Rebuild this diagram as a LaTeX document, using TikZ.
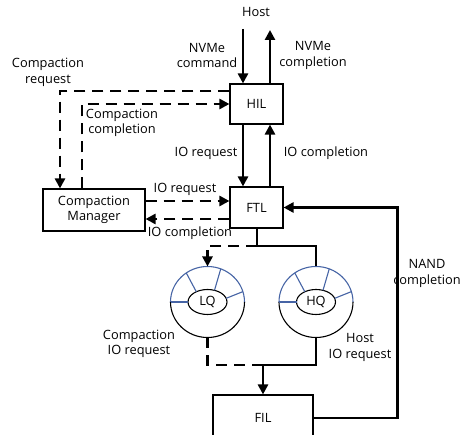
\documentclass[tikz,border=0pt]{standalone}
\usepackage{fontspec}
\setmainfont{Open Sans}
\usetikzlibrary{arrows.meta,calc,shapes.geometric}
\definecolor{ringblue}{RGB}{70,100,165}
\begin{document}
\begin{tikzpicture}[x=1pt,y=1pt,
  txt/.style={font=\fontsize{12.8}{15.5}\selectfont},
  box/.style={txt,draw,line width=1.1pt,inner sep=0pt,align=center},
  lbl/.style={txt,align=center,inner sep=0pt},
  tip/.style={-{Triangle[length=10pt,width=10pt]}},
  flow/.style={line width=2.6pt,tip},
  plain/.style={line width=2.6pt},
  dsh/.style={line width=2.6pt,dash pattern=on 11pt off 7pt},
  ring/.style={line width=1.1pt},
  outerring/.style={ellipse,minimum width=74pt,minimum height=71pt,inner sep=0pt,outer sep=0pt},
  innerring/.style={txt,ellipse,draw,ring,minimum width=39pt,minimum height=25pt,inner sep=0pt},
]
\useasboundingbox (0,0) rectangle (475,-435);
\clip (0,0) rectangle (475,-435);

% boxes
\node[box,minimum width=53pt,minimum height=40pt] (hil) at (256.5,-104) {HIL};
\node[box,minimum width=53pt,minimum height=41pt] (ftl) at (256.5,-207.5) {FTL};
\node[box,minimum width=102pt,minimum height=42pt] (cm) at (94,-210) {Compaction\\Manager};
\node[box,minimum width=100pt,minimum height=46pt] (fil) at (263,-418) {FIL};

% queues
\node[outerring] (lq) at (207.5,-302) {};
\node[innerring] (lqin) at (207.5,-302) {LQ};
\node[outerring] (hq) at (316,-302) {};
\node[innerring] (hqin) at (316,-302) {HQ};
\foreach \q in {lq,hq}{
  \draw[ring,ringblue] (\q.east) arc[start angle=0,end angle=180,x radius=37pt,y radius=35.5pt];
  \draw[ring] (\q.west) arc[start angle=180,end angle=360,x radius=37pt,y radius=35.5pt];
  \foreach \a in {180,125,69,17}
    \draw[ring,ringblue] ($(\q.center)+({19.5*cos(\a)},{12.5*sin(\a)})$) -- ($(\q.center)+({37*cos(\a)},{35.5*sin(\a)})$);
}

% labels
\node[lbl] (host) at (256,-12) {Host};
\node[lbl] (nvmecmd) at (207,-55.5) {NVMe\\command};
\node[lbl] (nvmecpl) at (313,-55.5) {NVMe\\completion};
\node[lbl] (ioreq1) at (206,-153) {IO request};
\node[lbl] (iocpl1) at (326,-153) {IO completion};
\node[lbl] (creq) at (48,-72.5) {Compaction\\request};
\node[lbl] (ccpl) at (122,-123) {Compaction\\completion};
\node[lbl] (ioreq2) at (185,-189) {IO request};
\node[lbl] (iocpl2) at (190,-233) {IO completion};
\node[lbl] (cioreq) at (139,-344) {Compaction\\IO request};
\node[lbl] (hioreq) at (360,-347.5) {Host\\IO request};
\node[lbl] (nandcpl) at (427,-273.5) {NAND\\completion};

% host <-> HIL <-> FTL
\coordinate (hostin) at (243,-29);
\coordinate (hostout) at (270,-30);
\draw[flow] (hostin) -- (hostin |- hil.north);
\draw[flow] (hil.north -| hostout) -- (hostout);
\draw[flow] (hil.south -| hostin) -- (hostin |- ftl.north);
\draw[flow] (ftl.north -| hostout) -- (hostout |- hil.south);

% compaction request / completion
\coordinate (cr) at (60,-91);
\draw[dsh,tip] (cr -| hil.west) -- (cr) -- (cr |- cm.north);
\coordinate (cc) at (82,-104);
\draw[dsh,tip] (cc |- cm.north) -- (cc) -- (cc -| hil.west);

% CM <-> FTL
\coordinate (r1) at (0,-201);
\coordinate (r2) at (0,-219);
\draw[dsh,tip] (cm.east |- r1) -- (ftl.west |- r1);
\draw[dsh,tip] (ftl.west |- r2) -- (cm.east |- r2);

% FTL -> queues
\coordinate (j1) at (257,-246);
\draw[plain] (ftl.south -| j1) -- (j1) -- (j1 -| hq.north) -- (hq.north);
\draw[dsh,tip] (j1) -- (j1 -| lq.north) -- (lq.north);

% queues -> FIL
\coordinate (j2) at (263,-365);
\draw[dsh] (lq.south) -- (lq.south |- j2) -- (j2);
\draw[flow] (hq.south) -- (hq.south |- j2) -- (j2) -- (j2 |- fil.north);

% NAND completion
\draw[flow] (fil.east) -| ($(ftl.east)+(114,0)$) -- (ftl.east);
\end{tikzpicture}
\end{document}
